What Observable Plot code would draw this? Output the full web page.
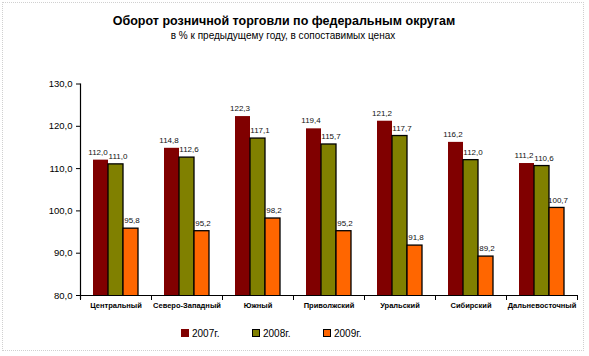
<!DOCTYPE html>
<html>
<head>
<meta charset="utf-8">
<script src="https://cdn.jsdelivr.net/npm/d3@7"></script>
<script src="https://cdn.jsdelivr.net/npm/@observablehq/plot@0.6"></script>
<style>
  html, body { margin: 0; padding: 0; background: #fff; }
  body { width: 589px; height: 356px; position: relative; overflow: hidden; font-family: "Liberation Sans", Arial, sans-serif; }
  #border { position: absolute; left: 2px; top: 2px; width: 582px; height: 349px; border: 1px dotted #d0d0d0; box-sizing: border-box; }
  #title { position: absolute; left: 0; width: 568px; top: 14px; text-align: center; font-size: 12.5px; font-weight: bold; color: #000; }
  #subtitle { position: absolute; left: 0; width: 566px; top: 30px; text-align: center; font-size: 10px; color: #000; }
  #chart { position: absolute; left: 0; top: 0; }
  #legend { position: absolute; top: 327px; left: 0; width: 589px; height: 14px; font-size: 10px; color: #000; }
  .item { position: absolute; top: 0; display: flex; align-items: center; height: 12px; }
  .sw { width: 8px; height: 8px; box-sizing: border-box; margin-right: 3px; }
</style>
</head>
<body>
<div id="border"></div>
<div id="chart"></div>
<div id="title">Оборот розничной торговли по федеральным округам</div>
<div id="subtitle">в % к предыдущему году, в сопоставимых ценах</div>
<div id="legend"></div>
<script>
const categories = ["Центральный", "Северо-Западный", "Южный", "Приволжский", "Уральский", "Сибирский", "Дальневосточный"];
const series = ["2007г.", "2008г.", "2009г."];
const values2007 = [112.0, 114.8, 122.3, 119.4, 121.2, 116.2, 111.2];
const values2008 = [111.0, 112.6, 117.1, 115.7, 117.7, 112.0, 110.6];
const values2009 = [95.8, 95.2, 98.2, 95.2, 91.8, 89.2, 100.7];
const yTicks = [80, 90, 100, 110, 120, 130];
const colors = ["#800000", "#808000", "#ff6600"];

const allValues = [values2007, values2008, values2009];
const rows = categories.flatMap((c, i) => allValues.map((vals, j) => ({cat: c, series: series[j], value: vals[i]})));
const fmt = d => d.toFixed(1).replace(".", ",");
const bySeries = j => rows.filter(d => d.series === series[j]);

const chart = Plot.plot({
  width: 589,
  height: 356,
  marginLeft: 77,
  marginRight: 10,
  marginTop: 83.5,
  marginBottom: 61,
  style: {fontFamily: "'Liberation Sans', Arial, sans-serif", background: "transparent", color: "#000"},
  fx: {domain: categories, padding: 0, label: null},
  x: {domain: series, paddingInner: 0, paddingOuter: 0.72, axis: null},
  y: {domain: [80, 130], label: null},
  color: {domain: series, range: colors},
  marks: [
    Plot.axisY({ticks: yTicks, tickFormat: fmt, tickSize: 4, tickPadding: 4, fontSize: 9.5, label: null}),
    Plot.axisFx({anchor: "bottom", tickSize: 0, tickPadding: 7, fontSize: 7.5, fontWeight: "bold", label: null}),
    Plot.barY(bySeries(0), {fx: "cat", x: "series", y: "value", fill: "series", clip: true}),
    Plot.barY(rows.filter(d => d.series !== series[0]), {fx: "cat", x: "series", y: "value", fill: "series", stroke: "#000", strokeWidth: 1.3, clip: true}),
    Plot.text(bySeries(0), {fx: "cat", x: "series", y: "value", text: d => fmt(d.value), dy: -8, dx: -3, fontSize: 8, fill: "#111"}),
    Plot.text(bySeries(1), {fx: "cat", x: "series", y: "value", text: d => fmt(d.value), dy: -8, dx: 2, fontSize: 8, fill: "#111"}),
    Plot.text(bySeries(2), {fx: "cat", x: "series", y: "value", text: d => fmt(d.value), dy: -8, dx: 1, fontSize: 8, fill: "#111"}),
    Plot.ruleY([80], {stroke: "#000", strokeWidth: 1.2}),
    Plot.frame({anchor: "left", facet: "super", stroke: "#000", strokeWidth: 1.2, insetBottom: -3}),
    Plot.frame({anchor: "left", insetTop: 211.5, insetBottom: -4, stroke: "#000"}),
    Plot.frame({anchor: "right", insetTop: 211.5, insetBottom: -4, stroke: "#000"})
  ]
});
document.getElementById("chart").appendChild(chart);

const legend = document.getElementById("legend");
const legendX = [181, 252, 323];
series.forEach((s, j) => {
  const item = document.createElement("div");
  item.className = "item";
  item.style.left = legendX[j] + "px";
  const sw = document.createElement("div");
  sw.className = "sw";
  sw.style.background = colors[j];
  if (j > 0) sw.style.border = "1.3px solid #000";
  item.appendChild(sw);
  const t = document.createElement("span");
  t.textContent = s;
  item.appendChild(t);
  legend.appendChild(item);
});
</script>
</body>
</html>
